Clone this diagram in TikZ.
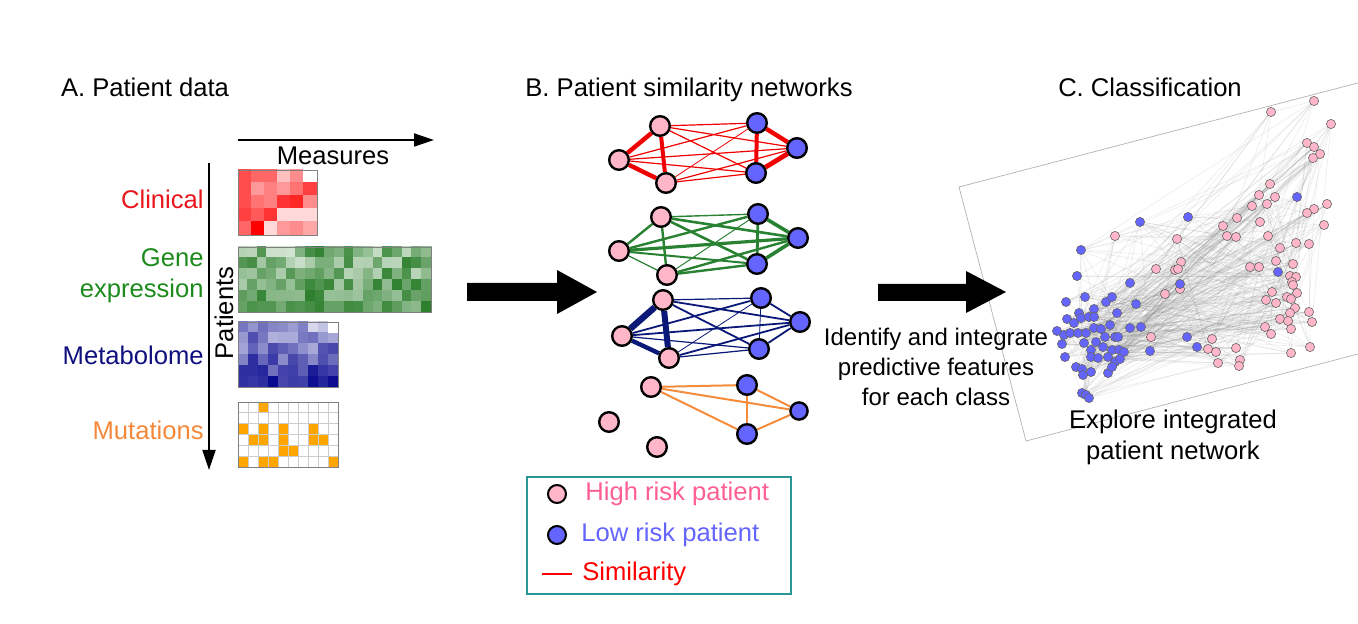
\documentclass[tikz,border=0pt]{standalone}
\usepackage{fontspec}
\setmainfont{Liberation Sans}
\usetikzlibrary{positioning, arrows.meta, backgrounds}

\definecolor{clinred}{RGB}{232,22,28}
\definecolor{genegreen}{RGB}{28,138,28}
\definecolor{metabblue}{RGB}{15,15,128}
\definecolor{mutorange}{RGB}{244,136,58}
\definecolor{clincell}{RGB}{255,0,0}
\definecolor{genecell}{RGB}{0,100,0}
\definecolor{metabcell}{RGB}{0,0,140}
\definecolor{mutcell}{RGB}{255,165,0}
\definecolor{hipink}{RGB}{255,182,200}
\definecolor{lowblue}{RGB}{100,100,255}
\definecolor{hitext}{RGB}{255,95,145}
\definecolor{netred}{RGB}{240,0,0}
\definecolor{netgreen}{RGB}{40,130,50}
\definecolor{netblue}{RGB}{10,25,120}
\definecolor{netorange}{RGB}{245,140,60}
\definecolor{keyteal}{RGB}{40,150,150}

\begin{document}
\begin{tikzpicture}[x=0.5pt, y=-0.5pt,
              font = \fontsize{12.8}{15}\selectfont,
 every node/.style = {inner sep=0pt},
       pat/.style = {circle, draw=black, line width=1.2pt, minimum size=9.8pt},
        hi/.style = {pat, fill=hipink},
        lo/.style = {pat, fill=lowblue},
       dot/.style = {circle, draw=black!60, line width=0.3pt, minimum size=4.6pt},
     hidot/.style = {dot, fill=hipink},
     lodot/.style = {dot, fill=lowblue},
      link/.style = {gray, opacity=0.14, line width=0.35pt},
      cell/.style = {draw=white, line width=0.5pt},
      axis/.style = {line width=0.9pt, -{Triangle[length=10pt, width=6.5pt]}}
                    ]
\useasboundingbox (0,0) rectangle (1358,624);

% titles
\node[anchor=base] (titleA) at (145,97) {A. Patient data};
\node[anchor=base] (titleB) at (689,97) {B. Patient similarity networks};
\node[anchor=base] (titleC) at (1150,97) {C. Classification};

% A. patient data
\coordinate (measL) at (238,140);
\coordinate (measR) at (434,140);
\draw[axis] (measL) -- (measR);
\node[anchor=base] (meas) at (333,165) {Measures};
\coordinate (patT) at (209,163);
\coordinate (patB) at (209,470);
\draw[axis] (patT) -- (patB);
\node[rotate=90] (pats) at (224,313) {Patients};

\node[anchor=base east, text=clinred] (clin) at (204,209) {Clinical};
\node[anchor=east, align=right, text=genegreen,
      font=\fontsize{12.8}{15.5}\selectfont] (gene) at (204,276) {Gene\\expression};
\node[anchor=base east, text=metabblue] (metab) at (204,365) {Metabolome};
\node[anchor=base east, text=mutorange] (mut) at (204,440) {Mutations};

% clinical heatmap
\foreach \vals [count=\r from 0] in {{70,60,60,25,45,0},{70,40,50,40,55,75},
    {70,55,50,80,85,45},{75,65,80,15,15,15},{60,100,15,40,45,35}}
  \foreach \v [count=\c from 0] in \vals
    \fill[cell, clincell!\v!white] ({238+\c*13.17},{170+\r*13}) rectangle ++(13.17,13);
\draw[gray] (238,170) rectangle (317,235);

% gene expression heatmap
\pgfmathsetseed{42}
\foreach \r in {0,...,5}
  \foreach \c in {0,...,19}{
    \pgfmathsetmacro\lo{int(15+6*\r)}
    \pgfmathrandominteger{\v}{\lo}{82}
    \fill[cell, genecell!\v!white] ({238+\c*9.65},{247+\r*10.83}) rectangle ++(9.65,10.83);
  }
\draw[gray] (238,247) rectangle (431,312);

% metabolome heatmap
\pgfmathsetseed{7}
\foreach \r in {0,...,5}
  \foreach \c in {0,...,9}{
    \pgfmathsetmacro\lo{int(12+11*\r)}
    \pgfmathsetmacro\hi{int(62+7*\r)}
    \pgfmathrandominteger{\v}{\lo}{\hi}
    \fill[cell, metabcell!\v!white] ({238+\c*10},{322+\r*10.83}) rectangle ++(10,10.83);
  }
\fill[cell, white] (328,322) rectangle ++(10,10.83);
\draw[gray] (238,322) rectangle (338,387);

% mutations
\foreach \r in {0,...,5}
  \foreach \c in {0,...,9}
    \draw[gray!40, line width=0.4pt] ({238+\c*10},{402+\r*10.83}) rectangle ++(10,10.83);
\foreach \c/\r in {3/1, 1/3, 3/3, 5/3, 8/3, 2/4, 3/4, 5/4, 8/4, 9/4,
                   5/5, 6/5, 1/6, 3/6, 4/6, 10/6}
  \fill[mutcell, draw=gray!40, line width=0.4pt] ({238+(\c-1)*10},{402+(\r-1)*10.83}) rectangle ++(10,10.83);
\draw[gray] (238,402) rectangle (338,467);

% big arrows
\fill (467,283) -- (557,283) -- (557,270) -- (597,292) -- (557,314) -- (557,301) -- (467,301) -- cycle;
\fill (878,284) -- (966,284) -- (966,271) -- (1006,292) -- (966,313) -- (966,301) -- (878,301) -- cycle;

% B. similarity networks
\node[hi] (n1p1) at (660,126) {};
\node[hi] (n1p2) at (619,160) {};
\node[hi] (n1p3) at (666,183) {};
\node[lo] (n1b1) at (757,123) {};
\node[lo] (n1b2) at (797,148) {};
\node[lo] (n1b3) at (756,173) {};

\node[hi] (n2p1) at (661,217) {};
\node[hi] (n2p2) at (619,251) {};
\node[hi] (n2p3) at (667,275) {};
\node[lo] (n2b1) at (758,214) {};
\node[lo] (n2b2) at (798,238) {};
\node[lo] (n2b3) at (757,264) {};

\node[hi] (n3p1) at (663,300) {};
\node[hi] (n3p2) at (622,336) {};
\node[hi] (n3p3) at (669,358) {};
\node[lo] (n3b1) at (761,298) {};
\node[lo] (n3b2) at (800,322) {};
\node[lo] (n3b3) at (759,349) {};

\node[hi] (n4p1) at (651,387) {};
\node[lo] (n4b1) at (747,385) {};
\node[lo, minimum size=8.6pt] (n4b2) at (799,411) {};
\node[lo] (n4b3) at (747,434) {};
\node[hi] (iso1) at (609,422) {};
\node[hi] (iso2) at (657,447) {};

\begin{scope}[on background layer]
\foreach \a/\b/\w in {p1/p2/2.2pt, p2/p3/2.2pt, p1/p3/2pt, b1/b2/2.2pt, b1/b3/2pt,
    b2/b3/2.4pt, p1/b1/0.6pt, p1/b2/0.6pt, p1/b3/0.6pt, p2/b1/0.6pt, p2/b2/0.6pt,
    p2/b3/0.6pt, p3/b1/0.4pt, p3/b2/0.6pt, p3/b3/0.6pt}
  \draw[netred, line width=\w] (n1\a) -- (n1\b);
\foreach \a/\b/\w in {p1/p2/1.2pt, p1/p3/1.2pt, p2/p3/0.6pt, b1/b2/1.8pt, b1/b3/1.4pt,
    b2/b3/1.8pt, p1/b1/0.7pt, p1/b2/1.3pt, p1/b3/1.3pt, p2/b1/1.2pt, p2/b2/1.6pt,
    p2/b3/1pt, p3/b1/0.5pt, p3/b2/1.2pt, p3/b3/1.2pt}
  \draw[netgreen, line width=\w] (n2\a) -- (n2\b);
\foreach \a/\b/\w in {p1/p2/3.2pt, p1/p3/3pt, p2/p3/2.2pt, b1/b2/0.9pt, b1/b3/0.4pt,
    b2/b3/0.9pt, p1/b1/0.6pt, p1/b2/0.9pt, p1/b3/0.9pt, p2/b1/0.9pt, p2/b2/0.9pt,
    p2/b3/0.6pt, p3/b1/0.4pt, p3/b2/0.9pt, p3/b3/0.6pt}
  \draw[netblue, line width=\w] (n3\a) -- (n3\b);
\foreach \a/\b in {p1/b1, p1/b2, p1/b3, b1/b2, b1/b3, b2/b3}
  \draw[netorange, line width=1pt] (n4\a) -- (n4\b);
\end{scope}

% legend
\draw[keyteal, line width=1pt] (527,477) rectangle (791,594);
\node[hi, minimum size=9pt, line width=1pt] (keyhi) at (557,494) {};
\node[lo, minimum size=9pt, line width=1pt] (keylo) at (557,535) {};
\node[text=hitext, right=9pt of keyhi] (keyhitxt) {High risk patient};
\node[text=lowblue, right=7pt of keylo] (keylotxt) {Low risk patient};
\coordinate (simL) at (542,574);
\coordinate (simR) at (572,574);
\draw[red, line width=0.8pt] (simL) -- (simR);
\node[text=red, right=5pt of simR] (simtxt) {Similarity};

% C. classification
\node[align=center, font=\fontsize{12}{15}\selectfont] (ident) at (936,367)
  {Identify and integrate\\predictive features\\for each class};
\node[align=center, font=\fontsize{12.8}{15.5}\selectfont] (explore) at (1173,437)
  {Explore integrated\\patient network};

\foreach \x/\y [count=\i] in {1314/101, 1271/112, 1331/124, 1307/143, 1314/147,
    1320/154, 1313/158, 1270/184, 1259/195, 1275/197, 1252/206, 1267/204, 1314/209,
    1307/213, 1327/204, 1237/218, 1223/226, 1260/222, 1324/225, 1227/236, 1236/237,
    1268/236, 1177/239, 1115/236, 1280/248, 1296/243, 1309/244, 1181/262, 1175/270,
    1178/269, 1156/269, 1276/261, 1293/264, 1250/267, 1259/267, 1290/276, 1296/277,
    1292/282, 1293/285, 1180/289, 1165/294, 1272/292, 1297/293, 1287/297, 1266/300,
    1276/303, 1291/299, 1295/308, 1309/312, 1280/319, 1290/313, 1288/321, 1312/322,
    1291/329, 1265/327, 1271/334, 1151/337, 1212/339, 1208/349, 1216/352, 1236/348,
    1240/360, 1239/366, 1218/363, 1291/353, 1310/347}
  \node[hidot] (hr\i) at (\x,\y) {};
\foreach \x/\y [count=\i] in {1297/197, 1188/217, 1140/222, 1081/250, 1077/276,
    1130/283, 1180/284, 1278/272, 1066/302, 1085/297, 1106/302, 1112/297, 1136/304,
    1117/313, 1079/313, 1094/309, 1067/319, 1074/323, 1081/318, 1089/317, 1094/317,
    1057/331, 1064/335, 1070/333, 1078/333, 1086/333, 1094/328, 1101/329, 1110/325,
    1115/337, 1118/337, 1062/344, 1084/343, 1096/342, 1105/337, 1091/350, 1103/347,
    1112/350, 1119/350, 1124/352, 1065/357, 1091/357, 1098/358, 1108/357, 1115/362,
    1120/359, 1076/367, 1082/369, 1091/372, 1083/375, 1108/373, 1112/367, 1130/328,
    1141/327, 1150/351, 1187/337, 1197/347, 1082/393, 1086/395, 1089/398}
  \node[lodot] (lr\i) at (\x,\y) {};

\begin{scope}[on background layer]
\begin{scope}
\clip (0,0) rectangle (1358,624);
\draw[gray!60, line width=0.35pt] (1400,72) -- (959,187) -- (1026,441) -- (1400,343);
\end{scope}
\pgfmathsetseed{11}
\foreach \i in {1,...,66}{
  \foreach \k in {1,...,5}{
    \pgfmathrandominteger{\j}{1}{60}
    \draw[link] (hr\i) -- (lr\j);
  }
  \foreach \k in {1,2}{
    \pgfmathrandominteger{\j}{1}{66}
    \draw[link] (hr\i) -- (hr\j);
  }
}
\foreach \i in {1,...,60}{
  \foreach \k in {1,2}{
    \pgfmathrandominteger{\j}{1}{60}
    \draw[link] (lr\i) -- (lr\j);
  }
}
\end{scope}
\end{tikzpicture}
\end{document}
